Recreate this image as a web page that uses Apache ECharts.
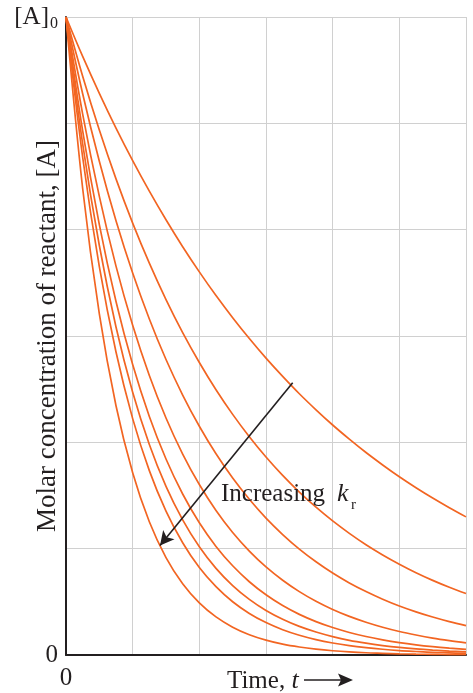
<!DOCTYPE html>
<html>
<head>
<meta charset="utf-8">
<script src="https://cdn.jsdelivr.net/npm/echarts@6/dist/echarts.min.js"></script>
<style>
  html, body { margin: 0; padding: 0; background: #fff; }
  #chart { width: 473px; height: 693px; }
</style>
</head>
<body>
<div id="chart"></div>
<script>
// Time axis in grid units (0 to 6), concentration as a fraction of [A]0 scaled to 0..6
const times = [0, 0.25, 0.5, 0.75, 1, 1.25, 1.5, 1.75, 2, 2.25, 2.5, 2.75, 3, 3.25, 3.5, 3.75,
               4, 4.25, 4.5, 4.75, 5, 5.25, 5.5, 5.75, 6];

// Decay curves, slowest rate constant first
const curve1 = [6, 5.629, 5.282, 4.955, 4.649, 4.362, 4.093, 3.840, 3.603, 3.380, 3.172, 2.976, 2.792,
                2.620, 2.457, 2.306, 2.163, 2.030, 1.904, 1.787, 1.676, 1.573, 1.476, 1.385, 1.299];
const curve2 = [6, 5.443, 4.937, 4.478, 4.062, 3.685, 3.343, 3.032, 2.751, 2.495, 2.263, 2.053, 1.862,
                1.689, 1.532, 1.390, 1.261, 1.144, 1.037, 0.941, 0.854, 0.774, 0.702, 0.637, 0.578];
const curve3 = [6, 5.278, 4.643, 4.084, 3.592, 3.160, 2.779, 2.445, 2.151, 1.892, 1.664, 1.464, 1.287,
                1.133, 0.996, 0.877, 0.771, 0.678, 0.597, 0.525, 0.461, 0.406, 0.357, 0.314, 0.276];
const curve4 = [6, 5.087, 4.313, 3.657, 3.101, 2.629, 2.229, 1.890, 1.603, 1.359, 1.152, 0.977, 0.828,
                0.703, 0.596, 0.505, 0.428, 0.363, 0.308, 0.261, 0.221, 0.188, 0.159, 0.135, 0.114];
const curve5 = [6, 4.929, 4.048, 3.325, 2.731, 2.243, 1.843, 1.514, 1.243, 1.021, 0.839, 0.689, 0.566,
                0.465, 0.382, 0.314, 0.258, 0.212, 0.174, 0.143, 0.117, 0.096, 0.079, 0.065, 0.053];
const curve6 = [6, 4.807, 3.851, 3.085, 2.471, 1.980, 1.586, 1.271, 1.018, 0.815, 0.653, 0.523, 0.419,
                0.336, 0.269, 0.216, 0.173, 0.138, 0.111, 0.089, 0.071, 0.057, 0.046, 0.037, 0.029];
const curve7 = [6, 4.681, 3.652, 2.849, 2.223, 1.734, 1.353, 1.056, 0.823, 0.643, 0.501, 0.391, 0.305,
                0.238, 0.186, 0.145, 0.113, 0.088, 0.069, 0.054, 0.042, 0.033, 0.025, 0.020, 0.015];
const curve8 = [6, 4.387, 3.207, 2.344, 1.714, 1.253, 0.916, 0.670, 0.490, 0.358, 0.262, 0.191, 0.140,
                0.102, 0.075, 0.055, 0.040, 0.029, 0.021, 0.016, 0.011, 0.008, 0.006, 0.004, 0.003];

const curves = [curve1, curve2, curve3, curve4, curve5, curve6, curve7, curve8];

// Arrow across the family of curves: [t, conc] from start to tip
const arrowStart = [3.4, 2.56];
const arrowEnd = [1.41, 1.03];

const serif = '"Liberation Serif", "DejaVu Serif", serif';
const ink = '#231f20';
const orange = '#f26522';

const chart = echarts.init(document.getElementById('chart'), null, { renderer: 'canvas' });

const series = curves.map((c, i) => ({
  type: 'line',
  data: times.map((t, j) => [t, c[j]]),
  smooth: 0.35,
  showSymbol: false,
  lineStyle: { color: orange, width: 1.7 },
  z: 3,
  silent: true,
  markLine: i === 0 ? {
    silent: true,
    symbol: ['none', 'arrow'],
    symbolSize: [11, 14],
    lineStyle: { color: ink, width: 1.6, type: 'solid' },
    label: { show: false },
    data: [[{ coord: arrowStart }, { coord: arrowEnd }]]
  } : undefined
}));

chart.setOption({
  animation: false,
  backgroundColor: '#fff',
  grid: { left: 66, right: 7, top: 17, bottom: 38, containLabel: false, outerBoundsMode: 'none' },
  xAxis: {
    type: 'value', min: 0, max: 6, interval: 1,
    axisLine: { show: true, onZero: false, lineStyle: { color: ink, width: 2 } },
    axisTick: { show: false },
    axisLabel: {
      margin: 11, color: ink, fontFamily: serif, fontSize: 25,
      formatter: v => (v === 0 ? '0' : '')
    },
    splitLine: { show: true, lineStyle: { color: '#d0d0d0', width: 1 } }
  },
  yAxis: {
    type: 'value', min: 0, max: 6, interval: 1,
    name: 'Molar concentration of reactant, [A]',
    nameLocation: 'middle', nameRotate: 90, nameGap: 5,
    nameMoveOverlap: false,
    nameTextStyle: { color: ink, fontFamily: serif, fontSize: 27 },
    axisLine: { show: true, onZero: false, lineStyle: { color: ink, width: 2 } },
    axisTick: { show: false },
    axisLabel: {
      margin: 8, color: ink, fontFamily: serif, fontSize: 25,
      formatter: v => (v === 0 ? '0' : v === 6 ? '{a|[A]}{s|0}' : ''),
      rich: {
        a: { fontFamily: serif, fontSize: 25, color: ink },
        s: { fontFamily: serif, fontSize: 16, color: ink, verticalAlign: 'bottom', padding: [14, 0, 0, 1] }
      }
    },
    splitLine: { show: true, lineStyle: { color: '#d0d0d0', width: 1 } }
  },
  graphic: [
    {
      type: 'text', left: 221, top: 482,
      style: { text: 'Increasing', fontFamily: serif, fontSize: 25, fill: ink },
      z: 10
    },
    {
      type: 'text', left: 337, top: 481,
      style: { text: 'k', fontFamily: serif, fontSize: 26, fontStyle: 'italic', fill: ink },
      z: 10
    },
    {
      type: 'text', left: 351, top: 498,
      style: { text: 'r', fontFamily: serif, fontSize: 15, fill: ink },
      z: 10
    },
    {
      type: 'text', left: 227, top: 668,
      style: {
        text: '{n|Time, }{t|t}',
        rich: {
          n: { fontFamily: serif, fontSize: 25, fill: ink },
          t: { fontFamily: serif, fontSize: 26, fontStyle: 'italic', fill: ink }
        }
      }
    },
    {
      type: 'line', shape: { x1: 304, y1: 680, x2: 344, y2: 680 },
      style: { stroke: ink, lineWidth: 1.6 }
    },
    {
      type: 'polygon', shape: { points: [[353, 680], [338, 673.5], [341, 680], [338, 686.5]] },
      style: { fill: ink }
    }
  ],
  series: series
});
</script>
</body>
</html>
